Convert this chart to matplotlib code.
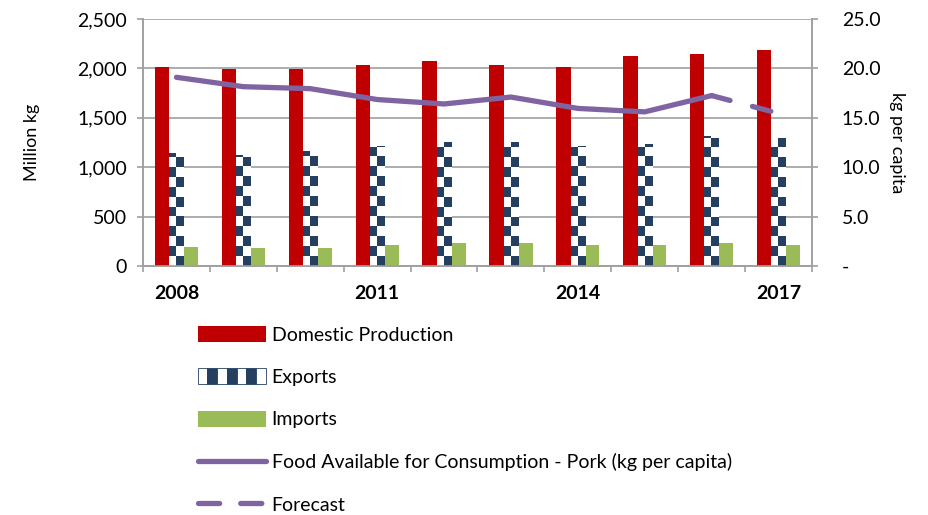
import matplotlib
matplotlib.use("Agg")
import matplotlib.pyplot as plt
from matplotlib.patches import Rectangle, Patch
from matplotlib.lines import Line2D
from matplotlib.legend_handler import HandlerBase
from matplotlib.colors import ListedColormap
from matplotlib.ticker import FuncFormatter
import numpy as np

plt.rcParams['font.family'] = ['Lato', 'DejaVu Sans']

# data
years = [2008, 2009, 2010, 2011, 2012, 2013, 2014, 2015, 2016, 2017]
domestic = [2010, 1995, 1995, 2030, 2070, 2030, 2012, 2125, 2145, 2185]
exports = [1140, 1125, 1165, 1215, 1255, 1255, 1215, 1235, 1315, 1300]
imports = [192, 178, 178, 212, 233, 233, 212, 212, 233, 212]
per_capita = [19.1, 18.15, 17.95, 16.85, 16.4, 17.1, 15.95, 15.6, 17.25]
forecast = [17.25, 15.45]   # 2016 -> 2017
year_labels = ['2008', '', '', '2011', '', '', '2014', '', '', '2017']

RED = '#C00000'
NAVY = '#243F60'
GREEN = '#9BBB59'
PURPLE = '#8064A2'
GRID = '#A0A0A0'


def checker(nrows, ncols):
    """Checkerboard array used for the Exports fill (0 = navy, 1 = white)."""
    r, c = np.indices((nrows, ncols))
    return (r + c + 1) % 2


class CheckerHandler(HandlerBase):
    def create_artists(self, legend, orig_handle, xdescent, ydescent,
                       width, height, fontsize, trans):
        arts = []
        n = 7
        w = width / n
        for i in range(n):
            col = NAVY if i % 2 == 1 else 'white'
            arts.append(Rectangle((-xdescent + i * w, -ydescent), w, height,
                                  facecolor=col, edgecolor=NAVY, linewidth=0.6,
                                  transform=trans))
        return arts


fig = plt.figure(figsize=(9.29, 5.15), dpi=100)
ax = fig.add_axes([143 / 929, 1 - 266 / 515, (812 - 143) / 929, (266 - 19) / 515])
ax2 = ax.twinx()

x = np.arange(len(years))
bw = 0.215

ax.bar(x - bw, domestic, bw, color=RED, zorder=3)
exp_bars = ax.bar(x, exports, bw, color='white', zorder=3)
ax.bar(x + bw, imports, bw, color=GREEN, zorder=3)

# checkered fill for the exports bars
cell = 100  # data units per checker row
for b in exp_bars:
    nrows = int(np.ceil(b.get_height() / cell))
    img = checker(nrows, 2)
    im = ax.imshow(img, cmap=ListedColormap([NAVY, 'white']), vmin=0, vmax=1,
                   extent=(b.get_x(), b.get_x() + b.get_width(), 0, nrows * cell),
                   origin='lower', aspect='auto', interpolation='nearest', zorder=3.5)
    im.set_clip_path(b)

ax.set_xlim(-0.5, len(years) - 0.5)
ax.set_ylim(0, 2500)
ax.set_yticks(np.arange(0, 2501, 500))
ax.yaxis.set_major_formatter(FuncFormatter(lambda v, p: f'{v:,.0f}'))
ax.grid(axis='y', color=GRID, linewidth=1.2, zorder=0)
ax.set_axisbelow(True)

ax.set_xticks(x)
ax.set_xticklabels(year_labels, fontweight='bold', fontsize=14)
ax.set_xticks(np.arange(-0.5, len(years)), minor=True)
ax.tick_params(axis='x', which='major', length=0, pad=14)
ax.tick_params(axis='x', which='minor', length=4.5, color=GRID, width=1.2)
ax.tick_params(axis='y', length=4.5, color=GRID, width=1.2, labelsize=14, pad=7)
ax.set_ylabel('Million kg', fontsize=13, labelpad=27)

for a in (ax, ax2):
    for s in a.spines.values():
        s.set_color(GRID)
        s.set_linewidth(1.2)
    a.spines['top'].set_visible(False)

ax2.set_ylim(0, 25)
ax2.set_yticks(np.arange(0, 25.1, 5))
ax2.yaxis.set_major_formatter(FuncFormatter(lambda v, p: '-' if v == 0 else f'{v:.1f}'))
ax2.tick_params(axis='y', length=4.5, color=GRID, width=1.2, labelsize=14, pad=17)
ax2.set_ylabel('kg per capita', fontsize=13, rotation=270, labelpad=18)

ax2.plot(x[:len(per_capita)], per_capita, color=PURPLE, linewidth=3.8,
         solid_capstyle='round', zorder=5)
ax2.plot(x[len(per_capita) - 1:], forecast, color=PURPLE, linewidth=3.8,
         dashes=(3.6, 4.4), dash_capstyle='round', zorder=5)

handles = [
    Patch(facecolor=RED),
    Patch(facecolor='white', edgecolor=NAVY),
    Patch(facecolor=GREEN),
    Line2D([], [], color=PURPLE, linewidth=3.8, solid_capstyle='round'),
    Line2D([], [], color=PURPLE, linewidth=3.8, dashes=(4, 4), dash_capstyle='round'),
]
labels = ['Domestic Production', 'Exports', 'Imports',
          'Food Available for Consumption - Pork (kg per capita)', 'Forecast']
fig.legend(handles, labels, loc='upper left', bbox_to_anchor=(190 / 929, 1 - 318 / 515),
           frameon=False, fontsize=14, handlelength=3.5, handleheight=0.9,
           handletextpad=0.3, labelspacing=1.27, borderaxespad=0,
           handler_map={handles[1]: CheckerHandler()})

fig.savefig('out.png', dpi=100)
